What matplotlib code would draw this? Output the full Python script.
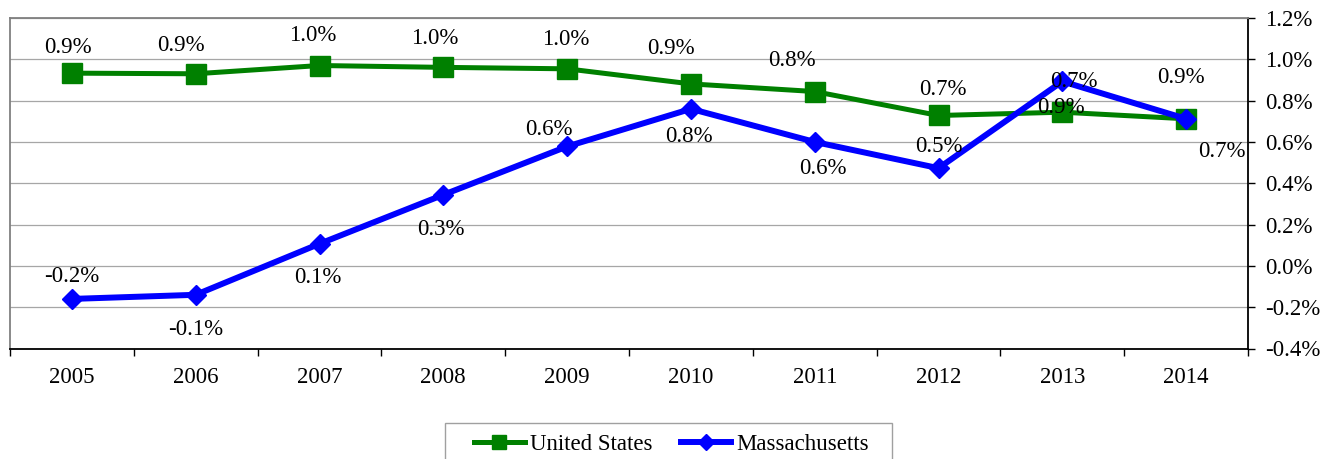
import matplotlib
matplotlib.use("Agg")
import matplotlib.pyplot as plt
from matplotlib.patches import Rectangle
from matplotlib.ticker import FuncFormatter

# Annual growth rates, percent
years = ["2005", "2006", "2007", "2008", "2009", "2010", "2011", "2012", "2013", "2014"]
us_growth = [0.933, 0.930, 0.970, 0.961, 0.954, 0.881, 0.844, 0.728, 0.744, 0.712]
ma_growth = [-0.160, -0.140, 0.107, 0.344, 0.578, 0.760, 0.600, 0.473, 0.893, 0.712]
us_labels = ["0.9%", "0.9%", "1.0%", "1.0%", "1.0%", "0.9%", "0.8%", "0.7%", "0.7%", "0.9%"]
ma_labels = ["-0.2%", "-0.1%", "0.1%", "0.3%", "0.6%", "0.8%", "0.6%", "0.5%", "0.9%", "0.7%"]
y_ticks = [-0.4, -0.2, 0.0, 0.2, 0.4, 0.6, 0.8, 1.0, 1.2]

# Label placement relative to each point (pixels; +x right, +y down)
us_label_shift = [(-4, -26), (-15, -28), (-7, -30), (-9, -29), (-1, -29),
                  (-20, -35), (-23, -31), (4, -26), (12, -31), (-5, -41)]
ma_label_shift = [(0, -22), (0, 35), (-2, 34), (-2, 35), (-18, -17),
                  (-2, 28), (8, 27), (0, -22), (-1, 26), (36, 33)]

plt.rcParams['font.family'] = ['Liberation Serif', 'DejaVu Serif']
plt.rcParams['font.size'] = 16.5

W, H = 1332, 459
fig = plt.figure(figsize=(W / 100, H / 100), dpi=100)
ax = fig.add_axes([10 / W, 1 - 348.5 / H, (1248 - 10) / W, (348.5 - 18) / H])

GREEN = '#008000'
BLUE = '#0000ff'
x = list(range(len(years)))

ax.plot(x, us_growth, color=GREEN, lw=3.6, marker='s', ms=14.5, mec=GREEN,
        label='United States', clip_on=False, zorder=3)
ax.plot(x, ma_growth, color=BLUE, lw=4.3, marker='D', ms=10.5, mec=BLUE,
        label='Massachusetts', clip_on=False, zorder=4)

px = 72 / 100
for i, (v, t, (dx, dy)) in enumerate(zip(us_growth, us_labels, us_label_shift)):
    ax.annotate(t, (i, v), xytext=(dx * px, -dy * px), textcoords='offset points',
                ha='center', va='center', zorder=5)
for i, (v, t, (dx, dy)) in enumerate(zip(ma_growth, ma_labels, ma_label_shift)):
    ax.annotate(t, (i, v), xytext=(dx * px, -dy * px), textcoords='offset points',
                ha='center', va='center', zorder=5)

ax.set_xlim(-0.5, len(years) - 0.5)
ax.set_ylim(y_ticks[0], y_ticks[-1])

# y axis on the right
ax.yaxis.tick_right()
ax.set_yticks(y_ticks)
ax.yaxis.set_major_formatter(FuncFormatter(lambda v, _: f"{v:.1f}%"))
ax.tick_params(axis='y', direction='out', length=5, width=1, color='black', pad=7.5)
ax.yaxis.grid(True, color='#a6a6a6', lw=0.9)
ax.set_axisbelow(True)

# categories with tick marks between them
ax.set_xticks(x, years)
ax.set_xticks([i - 0.5 for i in range(len(years) + 1)], minor=True)
ax.tick_params(axis='x', which='major', length=0, pad=13.5)
ax.tick_params(axis='x', which='minor', direction='out', length=5, width=1, color='black')

for side in ('left', 'top'):
    ax.spines[side].set_color('#808080')
    ax.spines[side].set_linewidth(1.3)
for side in ('right', 'bottom'):
    ax.spines[side].set_color('black')
    ax.spines[side].set_linewidth(1.3)

leg = fig.legend(loc='center', bbox_to_anchor=(671.5 / W, 1 - 444 / H), ncol=2,
                 frameon=False, handlelength=2.2, handletextpad=0.22,
                 columnspacing=1.25, borderpad=0)
for h in leg.legend_handles:
    if h.get_marker() == 's':
        h.set_markersize(9.5)
    else:
        h.set_markersize(8)
fig.patches.append(Rectangle((445 / W, 1 - 470 / H), (892 - 445) / W, 47 / H,
                             transform=fig.transFigure, fill=False,
                             edgecolor='#a0a0a0', lw=1))

fig.savefig('out.png', dpi=100)
